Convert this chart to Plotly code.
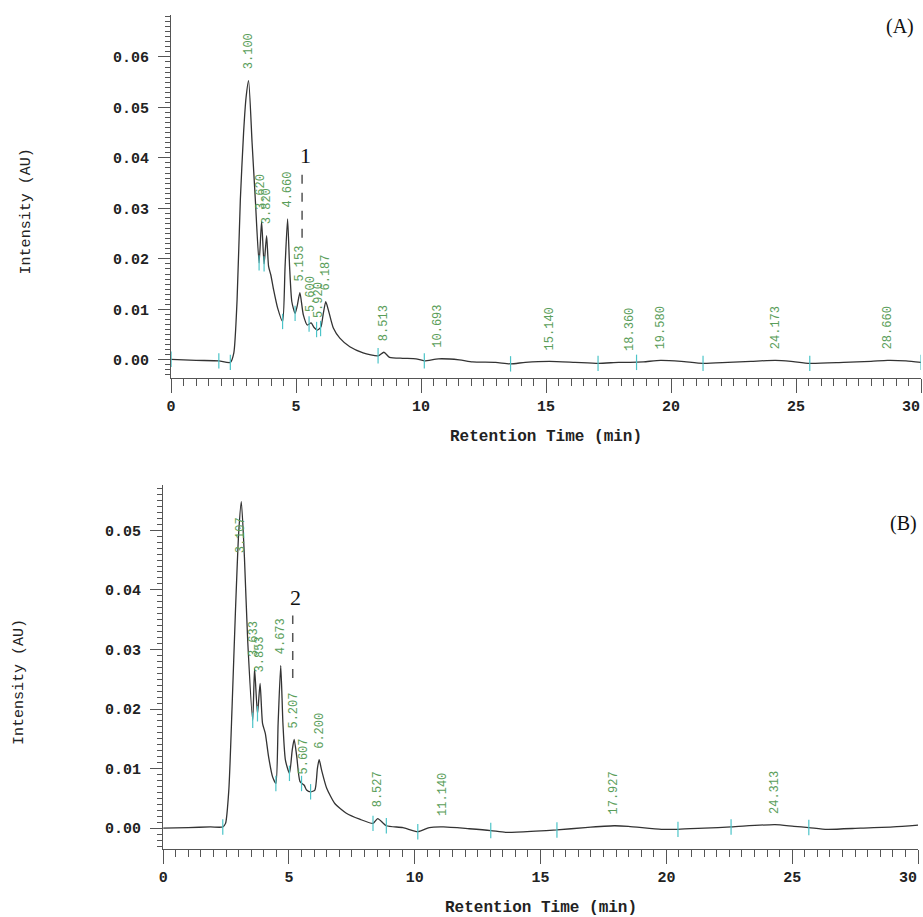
import plotly.graph_objects as go

# ---- Chromatogram A ----
a_time = [0.00, 1.00, 1.91, 2.37, 2.51, 2.64, 2.77, 2.90, 3.00, 3.100, 3.24, 3.37, 3.52, 3.620,
          3.72, 3.820, 3.90, 3.99, 4.10, 4.26, 4.46, 4.56, 4.660, 4.74, 4.83, 4.96, 5.05, 5.153,
          5.29, 5.45, 5.600, 5.72, 5.85, 5.920, 6.00, 6.09, 6.187, 6.29, 6.49, 6.75, 7.15, 7.68,
          8.28, 8.513, 8.74, 9.27, 9.80, 10.13, 10.693, 11.53, 12.06, 12.98, 13.58, 14.17, 15.140,
          16.16, 17.10, 17.90, 18.360, 18.90, 19.580, 20.41, 21.28, 22.27, 23.20, 24.173, 24.80,
          25.55, 26.90, 28.00, 28.660, 29.40, 30.00]
a_au = [0.0001, -0.0001, -0.0002, -0.0005, 0.0014, 0.0119, 0.0317, 0.0450, 0.0520, 0.0553, 0.0430,
        0.0317, 0.0192, 0.0274, 0.0190, 0.0246, 0.0185, 0.0168, 0.0139, 0.0103, 0.0076, 0.0185,
        0.0279, 0.0185, 0.0115, 0.0092, 0.0108, 0.0133, 0.0089, 0.0069, 0.0073, 0.0064, 0.0059,
        0.0061, 0.0066, 0.0092, 0.0115, 0.0099, 0.0063, 0.0043, 0.0026, 0.0014, 0.0008, 0.0015,
        0.0005, 0.0003, 0.0002, -0.0002, 0.0002, 0.0000, -0.0004, -0.0005, -0.0008, -0.0005,
        -0.0003, -0.0005, -0.0007, -0.0005, -0.0005, -0.0004, -0.0001, -0.0003, -0.0007, -0.0005,
        -0.0003, -0.0001, -0.0003, -0.0007, -0.0005, -0.0003, -0.0001, -0.0002, -0.0005]
a_peaks = ["3.100", "3.620", "3.820", "4.660", "5.153", "5.600", "5.920", "6.187", "8.513",
           "10.693", "15.140", "18.360", "19.580", "24.173", "28.660"]
a_mark_time = [0.0, 1.91, 2.37, 3.52, 3.72, 4.46, 4.96, 5.52, 5.82, 5.98, 8.28, 10.13, 13.58,
               17.08, 18.62, 21.28, 25.55, 30.0]
a_mark_au = [0.0001, -0.0002, -0.0005, 0.0192, 0.0190, 0.0076, 0.0092, 0.0071, 0.0060, 0.0062,
             0.0008, -0.0002, -0.0008, -0.0007, -0.0005, -0.0007, -0.0007, -0.0005]

# ---- Chromatogram B ----
b_time = [0.00, 1.00, 1.88, 2.37, 2.48, 2.61, 2.74, 2.87, 3.00, 3.107, 3.23, 3.36, 3.56, 3.633,
          3.75, 3.853, 3.95, 4.06, 4.19, 4.35, 4.48, 4.57, 4.673, 4.76, 4.86, 5.02, 5.13, 5.207,
          5.31, 5.44, 5.607, 5.70, 5.86, 6.03, 6.13, 6.200, 6.30, 6.50, 6.83, 7.28, 7.81, 8.34,
          8.527, 8.87, 9.53, 10.12, 10.58, 11.140, 12.16, 13.02, 13.61, 14.80, 15.65, 16.77,
          17.927, 18.49, 19.80, 20.46, 21.51, 22.57, 24.313, 25.07, 25.66, 26.39, 27.71, 29.02, 30.00]
b_au = [0.0000, 0.0001, 0.0002, 0.0002, 0.0008, 0.0064, 0.0204, 0.0360, 0.0494, 0.0548, 0.0455,
        0.0315, 0.0181, 0.0268, 0.0192, 0.0243, 0.0176, 0.0159, 0.0120, 0.0086, 0.0075, 0.0176,
        0.0273, 0.0176, 0.0114, 0.0092, 0.0131, 0.0149, 0.0120, 0.0078, 0.0072, 0.0064, 0.0061,
        0.0064, 0.0100, 0.0115, 0.0097, 0.0067, 0.0041, 0.0025, 0.0015, 0.0008, 0.0016, 0.0004,
        0.0001, -0.0006, 0.0001, 0.0002, -0.0001, -0.0004, -0.0007, -0.0005, -0.0003, 0.0001,
        0.0004, 0.0003, -0.0002, -0.0002, 0.0000, 0.0002, 0.0006, 0.0003, 0.0001, -0.0002,
        0.0000, 0.0002, 0.0005]
b_peaks = ["3.107", "3.633", "3.853", "4.673", "5.207", "5.607", "6.200", "8.527", "11.140",
           "17.927", "24.313"]
b_mark_time = [2.37, 3.56, 3.75, 4.48, 5.02, 5.50, 5.86, 8.34, 8.87, 10.12, 13.02, 15.65,
               20.46, 22.57, 25.66]
b_mark_au = [0.0002, 0.0181, 0.0192, 0.0075, 0.0092, 0.0075, 0.0061, 0.0008, 0.0004, -0.0006,
             -0.0004, -0.0003, -0.0002, 0.0002, 0.0001]

# Numbered compound markers: (label, time, dash top, dash bottom)
a_compound = ("1", 5.24, 0.0370, 0.0242)
b_compound = ("2", 5.15, 0.0357, 0.0252)

# Retention-time axis ticks
x_tickvals = [0, 5, 10, 15, 20, 25, 30]
x_ticktext = ["0", "5", "10", "15", "20", "25", "30"]

W, H = 923, 917
MONO = "Liberation Mono"
SERIF = "Liberation Serif"
TRACE = "#333333"
LABEL_GREEN = "#5a9e5a"
MARK_CYAN = "#4cc4c8"
AXIS = "#555555"
TICKFONT = dict(family=MONO, size=15, color="#222222", weight="bold")

panels = [
    dict(t=a_time, v=a_au, peaks=a_peaks, mt=a_mark_time, mv=a_mark_au, comp=a_compound,
         px=(167, 921), py=(15, 378), yr=(-0.0036, 0.0683), ymaxtick=0.06, tag="(A)",
         tagpos=(900, 27)),
    dict(t=b_time, v=b_au, peaks=b_peaks, mt=b_mark_time, mv=b_mark_au, comp=b_compound,
         px=(159, 918), py=(485, 849), yr=(-0.0035, 0.0576), ymaxtick=0.05, tag="(B)",
         tagpos=(903, 523)),
]

fig = go.Figure()
annotations = []
shapes = []
layout = {}

for i, p in enumerate(panels):
    n = "" if i == 0 else str(i + 1)
    xa, ya = "x" + n, "y" + n
    x0, x1 = p["px"]
    ytop, ybot = p["py"]
    ytickvals = [round(k * 0.01, 2) for k in range(int(round(p["ymaxtick"] / 0.01)) + 1)]

    # the last tick label sits flush right of its tick, drawn separately below
    layout["xaxis" + n] = dict(
        domain=[x0 / W, x1 / W], range=[0, 30], anchor=ya,
        showline=True, linecolor=AXIS, linewidth=1, showgrid=False, zeroline=False,
        ticks="outside", ticklen=14, tickcolor=AXIS, tickwidth=1,
        tickmode="array", tickvals=x_tickvals, ticktext=x_ticktext[:-1] + [""],
        tickfont=TICKFONT,
        minor=dict(tickmode="linear", tick0=0, dtick=0.5, ticklen=7, tickcolor=AXIS,
                   ticks="outside", showgrid=False),
        fixedrange=True,
    )
    layout["yaxis" + n] = dict(
        domain=[1 - ybot / H, 1 - ytop / H], range=list(p["yr"]), anchor=xa,
        showline=True, linecolor=AXIS, linewidth=1, showgrid=False, zeroline=False,
        ticks="outside", ticklen=12, tickcolor=AXIS, tickwidth=1,
        tickvals=ytickvals, tickformat=".2f", ticklabelstandoff=6,
        tickfont=TICKFONT,
        minor=dict(dtick=0.001, ticklen=5, tickcolor=AXIS, ticks="outside", showgrid=False),
        fixedrange=True,
    )
    annotations.append(dict(x=x_tickvals[-1], xref=xa, y=1 - (ybot + 29) / H, yref="paper",
                            text=x_ticktext[-1], showarrow=False, xanchor="right",
                            yanchor="middle", xshift=1, font=TICKFONT))

    # chromatogram trace
    fig.add_trace(go.Scatter(x=p["t"], y=p["v"], mode="lines", xaxis=xa, yaxis=ya,
                             line=dict(color=TRACE, width=1.3, shape="spline", smoothing=0.6),
                             showlegend=False, hoverinfo="skip"))
    # baseline event marks
    fig.add_trace(go.Scatter(x=p["mt"], y=p["mv"], mode="markers", xaxis=xa, yaxis=ya,
                             marker=dict(symbol="line-ns", size=11,
                                         line=dict(color=MARK_CYAN, width=1.2)),
                             showlegend=False, hoverinfo="skip"))

    # retention-time labels above each peak
    px_per_au = (ybot - ytop) / (p["yr"][1] - p["yr"][0])
    lookup = dict(zip(p["t"], p["v"]))
    for lab in p["peaks"]:
        rt = float(lab)
        v = lookup[rt]
        top_px = ybot - (v - p["yr"][0]) * px_per_au - 10 - 38
        if top_px < ytop + 10:
            annotations.append(dict(x=rt, y=p["yr"][1], xref=xa, yref=ya, text=lab,
                                    textangle=-90, showarrow=False, xanchor="center",
                                    yanchor="top", yshift=-30,
                                    font=dict(family=MONO, size=12, color=LABEL_GREEN)))
        else:
            annotations.append(dict(x=rt, y=v, xref=xa, yref=ya, text=lab, textangle=-90,
                                    showarrow=False, xanchor="center", yanchor="bottom",
                                    yshift=9, font=dict(family=MONO, size=12, color=LABEL_GREEN)))

    # numbered compound marker with dashed leader
    cname, ct, ctop, cbot = p["comp"]
    shapes.append(dict(type="line", xref=xa, yref=ya, x0=ct, x1=ct, y0=cbot, y1=ctop,
                       line=dict(color="#555555", width=1.5, dash="dash")))
    annotations.append(dict(x=ct, y=ctop, xref=xa, yref=ya, text=cname, showarrow=False,
                            xanchor="center", yanchor="bottom", xshift=3, yshift=3,
                            font=dict(family=SERIF, size=22, color="#111111")))

    # axis titles
    annotations.append(dict(x=(x0 + x1) / 2 / W, y=1 - (ybot + 59) / H, xref="paper",
                            yref="paper", text="Retention Time (min)", showarrow=False,
                            xanchor="center", yanchor="middle",
                            font=dict(family=MONO, size=16, color="#222222", weight="bold")))
    annotations.append(dict(x=(x0 - 145) / W, y=1 - ((ytop + ybot) / 2 + 15) / H,
                            xref="paper", yref="paper", text="Intensity (AU)",
                            showarrow=False, textangle=-90, xanchor="center",
                            yanchor="middle",
                            font=dict(family=MONO, size=15, color="#222222")))
    # panel tag
    annotations.append(dict(x=p["tagpos"][0] / W, y=1 - p["tagpos"][1] / H, xref="paper",
                            yref="paper", text=p["tag"], showarrow=False, xanchor="center",
                            yanchor="middle",
                            font=dict(family=SERIF, size=20, color="#111111")))

fig.update_layout(
    width=W, height=H, margin=dict(l=0, r=0, t=0, b=0),
    paper_bgcolor="white", plot_bgcolor="white",
    annotations=annotations, shapes=shapes, showlegend=False,
    **layout,
)

fig.write_html("out.html", config={"displayModeBar": False})
